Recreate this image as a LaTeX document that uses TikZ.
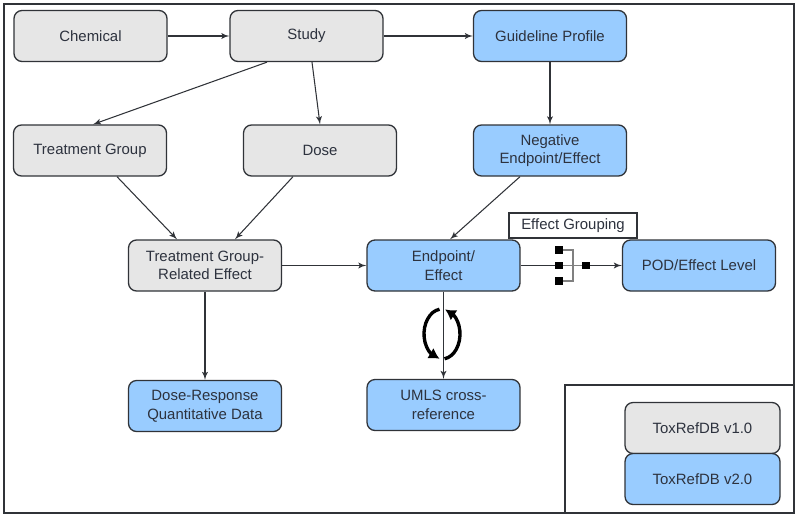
\documentclass[tikz,border=0pt]{standalone}
\usepackage{fontspec}
\setmainfont{Liberation Sans}
\usepackage{tikz}
\usetikzlibrary{arrows,arrows.meta,bending}

\definecolor{boxgrey}{RGB}{230,230,230}
\definecolor{boxblue}{RGB}{153,204,255}
\definecolor{boxline}{RGB}{48,51,56}
\definecolor{boxtext}{RGB}{45,50,62}

\begin{document}
\begin{tikzpicture}[x=0.02cm,y=-0.02cm]
\tikzset{vertex/.style = {shape=rectangle,rounded corners=0.16cm,draw=boxline,line width=0.75pt,
  minimum width=3.06cm,minimum height=1.02cm,align=center,text=boxtext,
  font=\fontsize{8.5}{10.6}\selectfont,inner sep=1pt}}
\tikzset{old/.style = {vertex,fill=boxgrey}}
\tikzset{new/.style = {vertex,fill=boxblue}}
\tikzset{edge/.style = {->,> = latex',draw=boxline,line width=0.6pt}}
\tikzset{sq/.style = {fill=black,minimum size=0.15cm,inner sep=0pt}}
\tikzset{turn/.style = {black,line width=1.9pt,-{Latex[length=6pt,width=7pt]}}}
\useasboundingbox (0,0) rectangle (800,518);
% frames
\draw[boxline,line width=0.9pt] (4,4) rectangle (794,513);
\draw[boxline,line width=0.9pt] (565,385) rectangle (794,513);
% vertices
\node[old] (chem) at (90.5,36) {Chemical};
\node[old] (study) at (306.5,36) {Study};
\node[new] (guide) at (550,36) {Guideline Profile};
\node[old] (tg) at (90,150.5) {Treatment Group};
\node[old] (dose) at (320,150.5) {Dose};
\node[new] (neg) at (550,150.5) {Negative\\Endpoint/Effect};
\node[old] (tgre) at (205,265.5) {Treatment Group-\\Related Effect};
\node[new] (endp) at (443.5,265.5) {Endpoint/\\Effect};
\node[new] (pod) at (699,265.5) {POD/Effect Level};
\node[new] (dr) at (205,406) {Dose-Response\\Quantitative Data};
\node[new] (umls) at (443.5,405) {UMLS cross-\\reference};
\node[draw=boxline,line width=0.75pt,fill=white,minimum width=2.56cm,minimum height=0.5cm,
  inner sep=1pt,text=boxtext,font=\fontsize{8.5}{10.6}\selectfont] (grp) at (573,225.5) {Effect Grouping};
% legend
\node[old,minimum width=3.1cm] (v1) at (702.5,428) {ToxRefDB v1.0};
\node[new,minimum width=3.1cm] (v2) at (702.5,479) {ToxRefDB v2.0};
%edges
\draw[edge] (chem) -- (study);
\draw[edge] (study) -- (guide);
\draw[edge] ([xshift=-0.79cm]study.south) -- ([xshift=0.06cm]tg.north);
\draw[edge] ([xshift=0.11cm]study.south) -- (dose.north);
\draw[edge] (guide) -- (neg);
\draw[edge] ([xshift=0.54cm]tg.south) -- ([xshift=-0.56cm]tgre.north);
\draw[edge] ([xshift=-0.54cm]dose.south) -- ([xshift=0.6cm]tgre.north);
\draw[edge] ([xshift=-0.6cm]neg.south) -- ([xshift=0.13cm]endp.north);
\draw[edge] (tgre) -- (endp);
\draw[edge] (tgre) -- (dr);
\draw[edge] (endp) -- (umls);
\draw[edge] (endp) -- (pod);
% grouping mark
\node[sq] (g1) at (559,250) {};
\node[sq] (g2) at (559,265.5) {};
\node[sq] (g3) at (559,281) {};
\node[sq] (g4) at (586,265.5) {};
\draw[gray,line width=1pt] (g1.east) -- ++(10,0) |- (g3.east);
\draw[gray,line width=1pt] (g2.east) -- ++(10,0) -- (g4.west);
% cycle mark
\coordinate (cyc) at (442,334);
\draw[turn] ([shift={(-98:18 and 25)}]cyc) arc[start angle=-98,end angle=-262,x radius=18,y radius=25];
\draw[turn] ([shift={(82:18 and 25)}]cyc) arc[start angle=82,end angle=-80,x radius=18,y radius=25];
\end{tikzpicture}
\end{document}
